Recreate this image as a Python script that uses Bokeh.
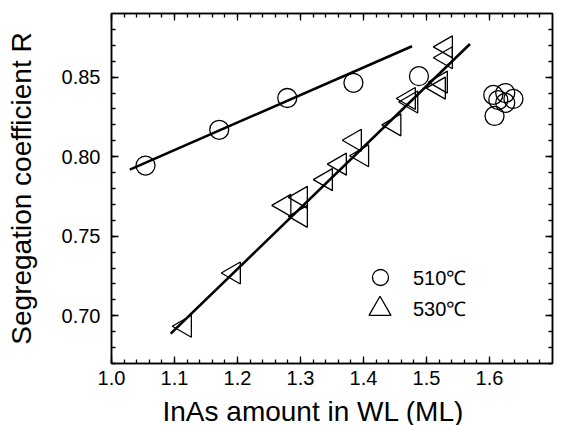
import numpy as np
from bokeh.plotting import figure
from bokeh.models import (Range1d, LinearAxis, SingleIntervalTicker, PrintfTickFormatter,
                          Label, Legend, LegendItem)
from bokeh.embed import file_html
from bokeh.resources import INLINE

# ---- data ----
x510 = [1.054, 1.171, 1.279, 1.384, 1.488, 1.606, 1.625, 1.638, 1.625, 1.608, 1.614]
y510 = [0.7944, 0.8169, 0.8369, 0.8464, 0.8506, 0.8388, 0.8400, 0.8363, 0.8338, 0.8256, 0.8356]

x530 = [1.1167, 1.1944, 1.2746, 1.3008, 1.3008, 1.3405, 1.3627, 1.3865, 1.3980,
        1.4492, 1.4722, 1.4760, 1.5198, 1.5230, 1.5310, 1.5310]
y530 = [0.6934, 0.7269, 0.7694, 0.7744, 0.7625, 0.7856, 0.7953, 0.8103, 0.8006,
        0.8200, 0.8366, 0.8344, 0.8431, 0.8469, 0.8622, 0.8690]

fit510_x = [1.029, 1.477]
fit510_y = [0.7919, 0.8694]
fit530_x = [1.094, 1.569]
fit530_y = [0.6888, 0.8708]

x_range = (1.0, 1.7)
y_range = (0.67, 0.89)
x_label = "InAs amount in WL (ML)"
y_label = "Segregation coefficient R"
legend_labels = ["510\u2103", "530\u2103"]

FONT = "Liberation Sans"

p = figure(width=565, height=425, output_backend="svg", toolbar_location=None,
           x_range=Range1d(*x_range), y_range=Range1d(*y_range),
           min_border_left=111, min_border_right=13, min_border_top=13, min_border_bottom=62)
p.xgrid.visible = False
p.ygrid.visible = False
p.outline_line_color = "black"
p.outline_line_width = 1.5
p.background_fill_color = "white"
p.border_fill_color = "white"

xt = SingleIntervalTicker(interval=0.1, num_minor_ticks=5)
yt = SingleIntervalTicker(interval=0.05, num_minor_ticks=5)

def style_axis(ax, show_labels):
    ax.axis_line_color = "black"
    ax.axis_line_width = 1.5
    ax.major_tick_in = 7
    ax.major_tick_out = 0
    ax.minor_tick_in = 4
    ax.minor_tick_out = 0
    ax.major_tick_line_width = 1.3
    ax.minor_tick_line_width = 1.3
    ax.major_tick_line_color = "black"
    ax.minor_tick_line_color = "black"
    ax.major_label_text_font = FONT
    ax.major_label_text_font_size = "20px"
    ax.major_label_text_color = "black" if show_labels else None

xa = p.xaxis[0]
xa.ticker = xt
xa.formatter = PrintfTickFormatter(format="%.1f")
style_axis(xa, True)
xa.major_label_standoff = 7

ya = p.yaxis[0]
ya.ticker = yt
ya.formatter = PrintfTickFormatter(format="%.2f")
style_axis(ya, True)
ya.major_label_standoff = 11
ya.axis_label = y_label
ya.axis_label_text_font = FONT
ya.axis_label_text_font_size = "28px"
ya.axis_label_text_font_style = "normal"
ya.axis_label_text_color = "black"
ya.axis_label_standoff = 22

top = LinearAxis(ticker=SingleIntervalTicker(interval=0.1, num_minor_ticks=5))
style_axis(top, False)
top.major_label_text_font_size = "0px"
top.major_label_standoff = 0
p.add_layout(top, "above")

right = LinearAxis(ticker=SingleIntervalTicker(interval=0.05, num_minor_ticks=5))
style_axis(right, False)
right.major_label_text_font_size = "0px"
right.major_label_standoff = 0
p.add_layout(right, "right")

# fit lines
p.line(fit510_x, fit510_y, line_color="black", line_width=2.6)
p.line(fit530_x, fit530_y, line_color="black", line_width=2.6)

# data
r510 = p.scatter(x510, y510, marker="circle", size=19, fill_color=None,
                 line_color="black", line_width=1.3)
r530 = p.scatter(x530, y530, marker="triangle", size=22, angle=np.pi / 2,
                 fill_color=None, line_color="black", line_width=1.3)

def make_legend(label, renderer, gsize, loc, standoff):
    return Legend(items=[LegendItem(label=label, renderers=[renderer])],
                  location=loc, orientation="vertical",
                  glyph_width=gsize, glyph_height=gsize, spacing=0,
                  label_standoff=standoff, padding=0, margin=0,
                  border_line_color=None, background_fill_alpha=0,
                  label_text_font=FONT, label_text_font_size="20px",
                  label_text_color="black")

p.add_layout(make_legend(legend_labels[0], r510, 40, (249, 66), 13), "center")
p.add_layout(make_legend(legend_labels[1], r530, 55, (241, 27), 6), "center")

# x-axis title (canvas coordinates, in the bottom panel so it is not clipped)
p.add_layout(Label(x=162, y=411, x_units="canvas", y_units="canvas", text=x_label,
                   text_font=FONT, text_font_size="28px", text_color="black",
                   text_align="left", text_baseline="alphabetic"), "below")

open("out.html", "w").write(file_html(p, INLINE))
